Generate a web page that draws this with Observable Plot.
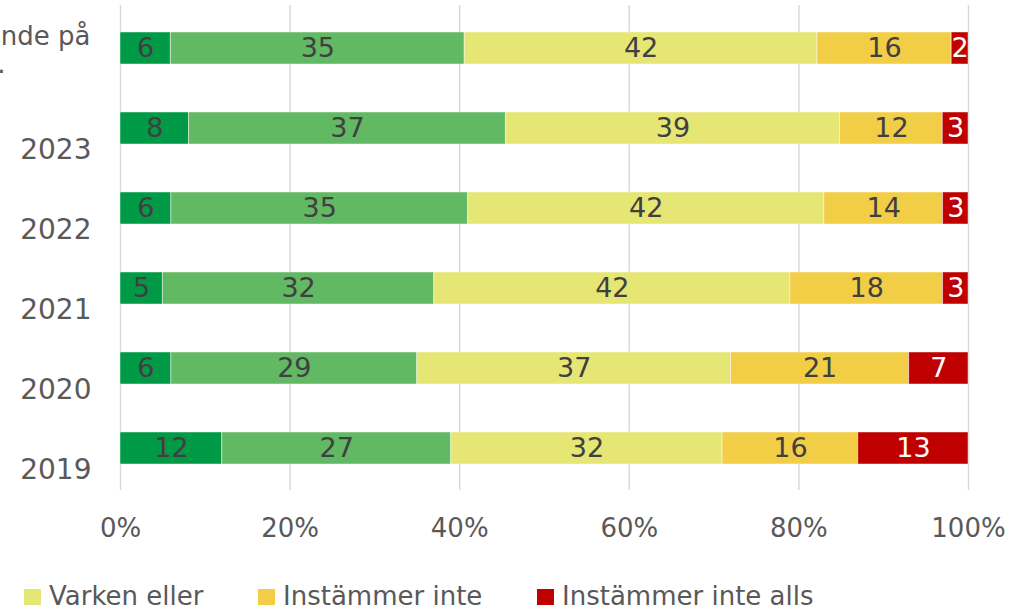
<!DOCTYPE html>
<html>
<head>
<meta charset="utf-8">
<script src="https://cdn.jsdelivr.net/npm/d3@7"></script>
<script src="https://cdn.jsdelivr.net/npm/@observablehq/plot@0.6"></script>
<style>
  html, body { margin: 0; padding: 0; background: #fff; overflow: hidden; }
  body { font-family: "DejaVu Sans", sans-serif; width: 1012px; height: 608px; }
  #legend { position: relative; height: 33px; font-size: 26px; line-height: 28px; color: #595959; white-space: nowrap; }
  #legend .item { position: absolute; top: 7px; }
  #legend .sw { display: inline-block; width: 17px; height: 16px; margin-right: 8px; vertical-align: baseline; }
</style>
</head>
<body>
<div id="chart"></div>
<div id="legend"></div>
<script>
const categories = ["nde på", "2023", "2022", "2021", "2020", "2019"];
const series = ["Instämmer helt", "Instämmer delvis", "Varken eller", "Instämmer inte", "Instämmer inte alls"];
const colors = ["#009A47", "#62B964", "#E6E675", "#F2CD46", "#C00000"];
const helt = [6, 8, 6, 5, 6, 12];
const delvis = [35, 37, 35, 32, 29, 27];
const varken = [42, 39, 42, 42, 37, 32];
const inte = [16, 12, 14, 18, 21, 16];
const inteAlls = [2, 3, 3, 3, 7, 13];
const xTicks = [0, 0.2, 0.4, 0.6, 0.8, 1];
const xTickLabels = ["0%", "20%", "40%", "60%", "80%", "100%"];
const legendItems = ["Varken eller", "Instämmer inte", "Instämmer inte alls"];
const firstLabelLines = ["nde på", "."];

const valueArrays = [helt, delvis, varken, inte, inteAlls];
const data = [];
categories.forEach((cat, i) => {
  series.forEach((s, j) => data.push({cat, series: s, value: valueArrays[j][i]}));
});

const font = "DejaVu Sans, sans-serif";
const red = series[4];

const chart = Plot.plot({
  width: 1012,
  height: 575,
  marginLeft: 120,
  marginRight: 44,
  marginTop: 5,
  marginBottom: 85,
  style: {fontFamily: font, background: "#fff", overflow: "visible"},
  x: {domain: [0, 1], axis: null},
  y: {domain: categories, axis: null, paddingInner: 0.603, paddingOuter: 0.31},
  color: {domain: series, range: colors},
  marks: [
    Plot.ruleX(xTicks, {x: d => d, stroke: "#D9D9D9", strokeWidth: 1.5}),
    Plot.barX(data, Plot.stackX({
      x: "value", y: "cat", fill: "series", offset: "normalize", order: series,
      stroke: "white", strokeWidth: 1, strokeOpacity: 0.45
    })),
    Plot.text(data, Plot.stackX({
      x: "value", y: "cat", z: "series", offset: "normalize", order: series,
      text: d => d.series !== red ? String(d.value) : null,
      fill: "#404040", fontSize: 27, lineAnchor: "middle", fontFamily: font
    })),
    Plot.text(data, Plot.stackX({
      x: "value", y: "cat", z: "series", offset: "normalize", order: series,
      text: d => d.series === red ? String(d.value) : null,
      fill: "white", fontSize: 27, lineAnchor: "middle", fontFamily: font
    })),
    Plot.text(xTicks, {
      x: d => d, text: (d, i) => xTickLabels[i], frameAnchor: "bottom", dy: 38,
      lineAnchor: "middle", fill: "#595959", fontSize: 26, fontFamily: font
    }),
    Plot.text(categories.slice(1), {
      y: d => d, text: d => d, frameAnchor: "left", dx: -29, dy: 22,
      textAnchor: "end", lineAnchor: "middle", fill: "#595959", fontSize: 28, fontFamily: font
    }),
    Plot.text([firstLabelLines[0]], {
      y: () => categories[0], text: d => d, frameAnchor: "left", dx: -30, dy: -12,
      textAnchor: "end", lineAnchor: "middle", fill: "#595959", fontSize: 26, fontFamily: font
    }),
    Plot.text([firstLabelLines[1]], {
      y: () => categories[0], text: d => d, frameAnchor: "left", dx: -115, dy: 16,
      textAnchor: "end", lineAnchor: "middle", fill: "#595959", fontSize: 26, fontFamily: font
    })
  ]
});
document.getElementById("chart").appendChild(chart);

const legendLefts = [24, 258, 537];
const legend = document.getElementById("legend");
legendItems.forEach((name, i) => {
  const item = document.createElement("span");
  item.className = "item";
  item.style.left = legendLefts[i] + "px";
  const sw = document.createElement("span");
  sw.className = "sw";
  sw.style.background = colors[series.indexOf(name)];
  item.appendChild(sw);
  item.appendChild(document.createTextNode(name));
  legend.appendChild(item);
});
</script>
</body>
</html>
